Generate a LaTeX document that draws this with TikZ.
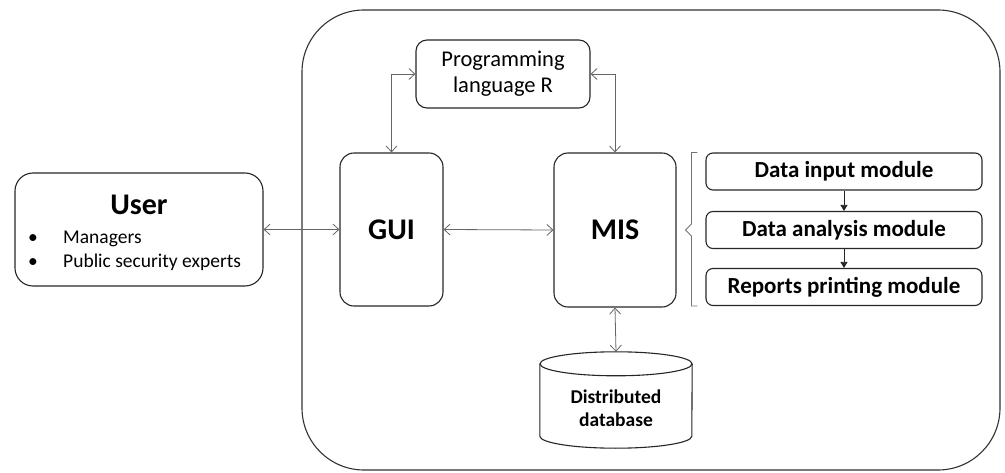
\documentclass[tikz,border=0pt]{standalone}
\usepackage{fontspec}
\setmainfont{Carlito}
\usetikzlibrary{arrows.meta,calc}
\begin{document}
\begin{tikzpicture}[x=1pt,y=-1pt,
  box/.style={draw=black!85, line width=1.1pt, rounded corners=14pt, inner sep=0pt},
  modbox/.style={box, rounded corners=7pt, minimum width=276pt, minimum height=37pt,
    font=\fontsize{23}{27}\selectfont\bfseries},
  link/.style={draw=black!60, line width=0.8pt,
    {Straight Barb[length=6pt,width=11pt]}-{Straight Barb[length=6pt,width=11pt]}},
  flow/.style={draw=black!85, line width=0.8pt, -{Triangle[length=6pt,width=7pt]}},
  big/.style={font=\fontsize{30}{34}\selectfont\bfseries},
  bullet/.style={font=\fontsize{19.5}{23}\selectfont, anchor=base west, inner sep=0pt}
]
\useasboundingbox (0,0) rectangle (1005,473);

% system boundary
\node (sys) [draw=black!80, line width=1.1pt, rounded corners=62pt,
  minimum width=698pt, minimum height=460pt] at (651,240) {};

% user
\node (user) [box, rounded corners=18pt, minimum width=248pt, minimum height=113pt] at (139,229.5) {};
\node (usertitle) [big] at (139,205) {User};
\node (b1dot) [bullet] at (28,244) {•};
\node (b1) [bullet] at (63,244) {Managers};
\node (b2dot) [bullet] at (28,268) {•};
\node (b2) [bullet] at (63,268) {Public security experts};

% main components
\node (gui) [box, minimum width=103pt, minimum height=153pt, big] at (391.5,229.5) {GUI};
\node (mis) [box, minimum width=122pt, minimum height=154pt, big] at (615,230) {MIS};
\node (rlang) [box, rounded corners=11pt, minimum width=174pt, minimum height=68pt,
  align=center, font=\fontsize{22.5}{26}\selectfont] at (503,74) {Programming\\language R};

% modules
\node (din) [modbox] at (844,171.5) {Data input module};
\node (dan) [modbox] at (844,230) {Data analysis module};
\node (drp) [modbox] at (844,287) {Reports printing module};

% database cylinder
\node (db) [minimum width=152pt, minimum height=96pt, inner sep=0pt] at (616,400) {};
\draw[draw=black!85, line width=1.1pt, fill=white]
  ($(db.north west)+(0,12)$) -- ($(db.south west)+(0,-12)$)
  arc[start angle=180, end angle=360, x radius=76pt, y radius=12pt]
  -- ($(db.north east)+(0,12)$);
\draw[draw=black!85, line width=1.1pt] ($(db.north)+(0,12)$) ellipse[x radius=76pt, y radius=12pt];
\node (dbtext) [align=center, font=\fontsize{19.5}{23.5}\selectfont\bfseries]
  at ($(db.center)+(0,8)$) {Distributed\\database};

% connectors
\draw[link] (user.east) -- (gui.west);
\draw[link] (gui.east) -- (mis.west);
\draw[link] (gui.north) |- (rlang.west);
\draw[link] (rlang.east) -| (mis.north);
\draw[link] (mis.south) -- (db.north);
\draw[flow] (din.south) -- (dan.north);
\draw[flow] (dan.south) -- (drp.north);

% bracket grouping the modules
\draw[draw=black!55, line width=0.8pt]
  ($(din.north west)+(-8,0)$) -- ($(din.north west)+(-14,0)$)
  -- ($(dan.west)+(-14,-6)$) -- ($(dan.west)+(-20,0)$) -- ($(dan.west)+(-14,6)$)
  -- ($(drp.south west)+(-14,0)$) -- ($(drp.south west)+(-8,0)$);
\end{tikzpicture}
\end{document}
